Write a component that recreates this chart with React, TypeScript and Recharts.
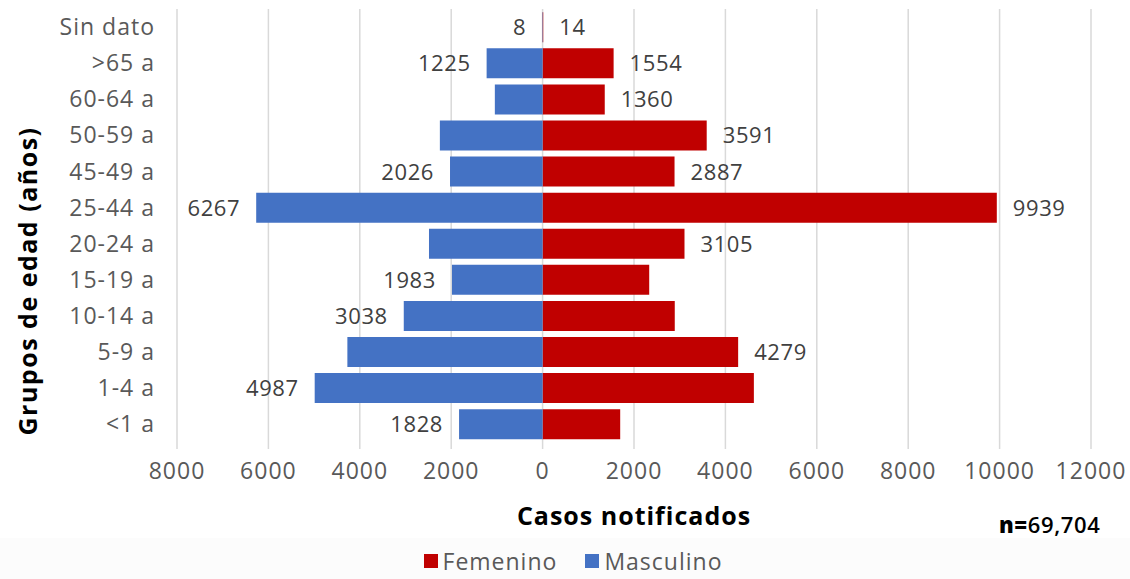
import React from 'react';
import { BarChart, Bar, XAxis, YAxis, CartesianGrid, Legend, LabelList } from 'recharts';

const groups = ['Sin dato', '>65 a', '60-64 a', '50-59 a', '45-49 a', '25-44 a', '20-24 a', '15-19 a', '10-14 a', '5-9 a', '1-4 a', '<1 a'];
const femenino = [14, 1554, 1360, 3591, 2887, 9939, 3105, 2333, 2892, 4279, 4623, 1698];
const masculino = [8, 1225, 1045, 2248, 2026, 6267, 2486, 1983, 3038, 4272, 4987, 1828];
// the source only printed some of the labels
const femLabelShown = [true, true, true, true, true, true, true, false, false, true, false, false];
const mascLabelShown = [true, true, false, false, true, true, false, true, true, false, true, true];
const xTicks = [-8000, -6000, -4000, -2000, 0, 2000, 4000, 6000, 8000, 10000, 12000];

const data = groups.map((group, i) => ({
  group,
  fem: femenino[i],
  masc: -masculino[i],
}));

const FONT = "'Open Sans', sans-serif";
const RED = '#c00000';
const BLUE = '#4472c4';

const makeLabel = (side: 'left' | 'right', shown: boolean[]) => (props: any) => {
  const { x, y, width, height, value, index } = props;
  if (!shown[index]) return null;
  const left = Math.min(x, x + width);
  const right = Math.max(x, x + width);
  const tx = side === 'left' ? left - 16 : right + 16;
  return (
    <text
      x={tx}
      y={y + height / 2}
      dy="0.36em"
      textAnchor={side === 'left' ? 'end' : 'start'}
      fill="#404040"
      fontSize={22}
      letterSpacing={0.6}
      fontFamily={FONT}
    >
      {Math.abs(value)}
    </text>
  );
};

const renderLegend = (props: any) => {
  const { payload } = props;
  return (
    <div
      style={{
        display: 'flex',
        justifyContent: 'center',
        alignItems: 'center',
        gap: 28,
        paddingLeft: 16,
        fontFamily: FONT,
        fontSize: 23,
        letterSpacing: 1,
        color: '#595959',
        lineHeight: '30px',
      }}
    >
      {(payload || []).map((entry: any) => (
        <span key={entry.value} style={{ display: 'inline-flex', alignItems: 'center' }}>
          <span style={{ display: 'inline-block', width: 14, height: 14, background: entry.color, marginRight: 5 }} />
          {entry.value}
        </span>
      ))}
    </div>
  );
};

const App: React.FC = () => {
  return (
    <div style={{ position: 'absolute', left: 0, top: 0, width: 1130, height: 579, background: '#fff', overflow: 'hidden' }}>
      <BarChart
        width={1130}
        height={579}
        data={data}
        layout="vertical"
        stackOffset="sign"
        barCategoryGap="9%"
        margin={{ top: 9, right: 39, left: 0, bottom: 0 }}
      >
        <CartesianGrid horizontal={false} stroke="#d9d9d9" strokeWidth={1.5} />
        <XAxis
          type="number"
          domain={[-8000, 12000]}
          ticks={xTicks}
          interval={0}
          tickFormatter={(v: number) => String(Math.abs(v))}
          axisLine={false}
          tickLine={{ stroke: '#d9d9d9', strokeWidth: 1.5 }}
          tickSize={7}
          tickMargin={14}
          height={96}
          tick={{ fill: '#595959', fontSize: 23, fontFamily: FONT, letterSpacing: 1 }}
          label={{
            content: () => (
              <text x={634} y={516} dy="0.36em" textAnchor="middle" fontSize={25} fontWeight={700} letterSpacing={1} fontFamily={FONT} fill="#000">
                Casos notificados
              </text>
            ),
          }}
        />
        <YAxis
          type="category"
          dataKey="group"
          width={177}
          axisLine={false}
          tickLine={false}
          tickSize={0}
          tickMargin={22}
          interval={0}
          tick={{ fill: '#595959', fontSize: 23, fontFamily: FONT, letterSpacing: 1 }}
          label={{
            content: () => (
              <text
                x={28}
                y={281}
                dy="0.36em"
                textAnchor="middle"
                transform="rotate(-90, 28, 281)"
                fontSize={25}
                fontWeight={700}
                letterSpacing={1.5}
                fontFamily={FONT}
                fill="#000"
              >
                Grupos de edad (años)
              </text>
            ),
          }}
        />
        <Legend
          verticalAlign="bottom"
          align="center"
          content={renderLegend}
          wrapperStyle={{
            left: 0,
            width: 1130,
            height: 41,
            bottom: 0,
            background: '#fcfcfc',
            paddingTop: 8,
            boxSizing: 'border-box',
          }}
        />
        <Bar dataKey="fem" name="Femenino" stackId="a" fill={RED} isAnimationActive={false}>
          <LabelList dataKey="fem" content={makeLabel('right', femLabelShown)} />
        </Bar>
        <Bar dataKey="masc" name="Masculino" stackId="a" fill={BLUE} isAnimationActive={false}>
          <LabelList dataKey="masc" content={makeLabel('left', mascLabelShown)} />
        </Bar>
      </BarChart>
      <div
        style={{
          position: 'absolute',
          left: 999,
          top: 509,
          fontFamily: FONT,
          fontSize: 22,
          letterSpacing: 0.6,
          color: '#000',
        }}
      >
        <span style={{ fontWeight: 800 }}>n=</span>
        <span style={{ fontWeight: 600 }}>69,704</span>
      </div>
    </div>
  );
};

export default App;
